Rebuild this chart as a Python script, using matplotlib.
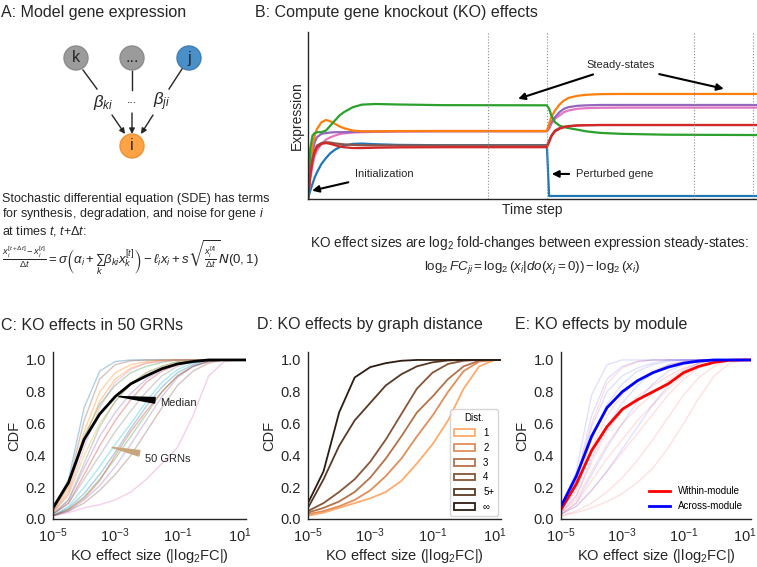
import numpy as np
import matplotlib
matplotlib.use("Agg")
import matplotlib.pyplot as plt
from matplotlib.patches import Circle, Rectangle
from matplotlib.lines import Line2D

plt.rcParams['font.family'] = ['Liberation Sans', 'DejaVu Sans']
plt.rcParams['mathtext.fontset'] = 'custom'
plt.rcParams['mathtext.rm'] = 'Liberation Sans'
plt.rcParams['mathtext.it'] = 'Liberation Sans:italic'
plt.rcParams['mathtext.bf'] = 'Liberation Sans:bold'
plt.rcParams['mathtext.cal'] = 'DejaVu Sans:italic'
plt.rcParams['mathtext.fallback'] = 'stixsans'

###################################################################################################
# DATA

# Panel B: expression time series (time step, expression) for 7 genes
T_STEP = [0, 0.5, 1, 1.5, 2, 3, 4, 5, 6, 7, 8, 10, 12, 15, 20, 30, 53.2, 53.7, 54.2, 55, 56, 57, 58, 60, 62, 65, 70, 80, 100]
EXPR_GREEN = [0, 0.30, 0.38, 0.395, 0.40, 0.40, 0.41, 0.44, 0.47, 0.50, 0.52, 0.55, 0.565, 0.569, 0.566, 0.562, 0.561, 0.54, 0.50, 0.46, 0.44, 0.43, 0.425, 0.415, 0.405, 0.396, 0.39, 0.385, 0.383]
EXPR_ORANGE = [0, 0.20, 0.32, 0.38, 0.42, 0.46, 0.473, 0.465, 0.45, 0.435, 0.424, 0.41, 0.405, 0.405, 0.407, 0.407, 0.407, 0.45, 0.49, 0.53, 0.565, 0.59, 0.605, 0.618, 0.624, 0.628, 0.629, 0.629, 0.629]
EXPR_PURPLE = [0, 0.18, 0.28, 0.34, 0.37, 0.39, 0.395, 0.398, 0.40, 0.40, 0.40, 0.402, 0.404, 0.405, 0.406, 0.407, 0.407, 0.43, 0.46, 0.49, 0.52, 0.54, 0.55, 0.558, 0.561, 0.563, 0.563, 0.563, 0.563]
EXPR_PINK = [0, 0.12, 0.20, 0.26, 0.29, 0.33, 0.355, 0.37, 0.38, 0.388, 0.393, 0.398, 0.40, 0.402, 0.404, 0.405, 0.405, 0.42, 0.45, 0.48, 0.50, 0.52, 0.53, 0.54, 0.544, 0.546, 0.547, 0.547, 0.547]
EXPR_BROWN = [0, 0.15, 0.24, 0.29, 0.32, 0.335, 0.34, 0.338, 0.333, 0.33, 0.327, 0.324, 0.322, 0.321, 0.32, 0.32, 0.32, 0.35, 0.38, 0.41, 0.425, 0.433, 0.437, 0.441, 0.442, 0.443, 0.443, 0.443, 0.443]
EXPR_RED = [0, 0.14, 0.23, 0.28, 0.31, 0.33, 0.335, 0.33, 0.322, 0.315, 0.31, 0.305, 0.305, 0.307, 0.309, 0.31, 0.31, 0.34, 0.375, 0.405, 0.42, 0.43, 0.435, 0.44, 0.442, 0.443, 0.443, 0.443, 0.443]
EXPR_BLUE = [0, 0.05, 0.09, 0.13, 0.16, 0.21, 0.245, 0.275, 0.295, 0.31, 0.32, 0.33, 0.332, 0.328, 0.324, 0.322, 0.322, 0.018, 0.018, 0.018, 0.018, 0.018, 0.018, 0.018, 0.018, 0.018, 0.018, 0.018, 0.018]
STEADY_WINDOWS = [40, 53.2, 86, 99]

# Panels C-E: CDFs evaluated at log10(|log2FC|)
LOG_FC = [-5, -4.5, -4, -3.5, -3, -2.5, -2, -1.5, -1, -0.5, 0, 0.5, 1, 1.2]

# C: individual GRNs and median
GRN_CDFS = [
    [0.06, 0.25, 0.70, 0.93, 0.99, 1.0, 1.0, 1.0, 1.0, 1.0, 1.0, 1.0, 1.0, 1.0],
    [0.05, 0.20, 0.55, 0.80, 0.92, 0.97, 0.99, 1.0, 1.0, 1.0, 1.0, 1.0, 1.0, 1.0],
    [0.06, 0.22, 0.52, 0.72, 0.84, 0.92, 0.96, 0.985, 1.0, 1.0, 1.0, 1.0, 1.0, 1.0],
    [0.03, 0.10, 0.28, 0.46, 0.62, 0.75, 0.86, 0.93, 0.97, 0.99, 1.0, 1.0, 1.0, 1.0],
    [0.03, 0.12, 0.32, 0.52, 0.67, 0.79, 0.88, 0.94, 0.98, 0.995, 1.0, 1.0, 1.0, 1.0],
    [0.05, 0.22, 0.62, 0.88, 0.97, 0.995, 1.0, 1.0, 1.0, 1.0, 1.0, 1.0, 1.0, 1.0],
    [0.02, 0.04, 0.07, 0.09, 0.12, 0.17, 0.25, 0.35, 0.45, 0.65, 0.90, 0.99, 1.0, 1.0],
    [0.03, 0.10, 0.25, 0.40, 0.55, 0.68, 0.80, 0.90, 0.96, 0.99, 1.0, 1.0, 1.0, 1.0],
    [0.04, 0.15, 0.40, 0.60, 0.74, 0.85, 0.92, 0.96, 0.99, 1.0, 1.0, 1.0, 1.0, 1.0],
    [0.02, 0.08, 0.20, 0.33, 0.47, 0.60, 0.74, 0.86, 0.94, 0.98, 1.0, 1.0, 1.0, 1.0],
    [0.02, 0.07, 0.16, 0.28, 0.42, 0.57, 0.71, 0.83, 0.92, 0.97, 0.995, 1.0, 1.0, 1.0],
    [0.04, 0.18, 0.50, 0.74, 0.88, 0.95, 0.98, 0.995, 1.0, 1.0, 1.0, 1.0, 1.0, 1.0],
    [0.02, 0.06, 0.14, 0.25, 0.38, 0.52, 0.66, 0.80, 0.90, 0.96, 0.99, 1.0, 1.0, 1.0],
    [0.02, 0.06, 0.13, 0.24, 0.40, 0.55, 0.68, 0.80, 0.90, 0.96, 0.99, 1.0, 1.0, 1.0],
    [0.02, 0.05, 0.12, 0.21, 0.33, 0.47, 0.62, 0.77, 0.89, 0.96, 0.99, 1.0, 1.0, 1.0],
    [0.02, 0.05, 0.10, 0.18, 0.28, 0.40, 0.55, 0.70, 0.84, 0.93, 0.98, 1.0, 1.0, 1.0],
    [0.04, 0.16, 0.45, 0.70, 0.86, 0.94, 0.98, 0.99, 1.0, 1.0, 1.0, 1.0, 1.0, 1.0],
    [0.03, 0.12, 0.35, 0.58, 0.74, 0.85, 0.92, 0.96, 0.99, 1.0, 1.0, 1.0, 1.0, 1.0],
]
MEDIAN_CDF = [0.07, 0.23, 0.50, 0.66, 0.77, 0.85, 0.90, 0.945, 0.975, 0.99, 1.0, 1.0, 1.0, 1.0]

# D: by graph distance
DIST_LABELS = ['1', '2', '3', '4', '5+', '\u221e']
DIST_CDFS = [
    [0.02, 0.04, 0.07, 0.10, 0.13, 0.17, 0.24, 0.35, 0.47, 0.62, 0.82, 0.96, 1.0, 1.0],
    [0.03, 0.05, 0.08, 0.12, 0.18, 0.27, 0.38, 0.52, 0.65, 0.80, 0.93, 0.99, 1.0, 1.0],
    [0.04, 0.07, 0.11, 0.17, 0.26, 0.38, 0.52, 0.67, 0.77, 0.88, 0.96, 0.995, 1.0, 1.0],
    [0.05, 0.10, 0.17, 0.25, 0.36, 0.50, 0.66, 0.82, 0.92, 0.975, 0.995, 1.0, 1.0, 1.0],
    [0.07, 0.25, 0.46, 0.62, 0.73, 0.84, 0.91, 0.96, 0.985, 0.997, 1.0, 1.0, 1.0, 1.0],
    [0.10, 0.30, 0.67, 0.89, 0.955, 0.98, 0.995, 1.0, 1.0, 1.0, 1.0, 1.0, 1.0, 1.0],
]

# E: by module
WITHIN_CDF = [0.06, 0.22, 0.43, 0.58, 0.69, 0.75, 0.80, 0.85, 0.92, 0.96, 0.985, 0.998, 1.0, 1.0]
ACROSS_CDF = [0.08, 0.27, 0.52, 0.70, 0.80, 0.87, 0.92, 0.955, 0.98, 0.993, 1.0, 1.0, 1.0, 1.0]
WITHIN_GRN_CDFS = [
    [0.06, 0.24, 0.60, 0.85, 0.95, 0.99, 1.0, 1.0, 1.0, 1.0, 1.0, 1.0, 1.0, 1.0],
    [0.05, 0.18, 0.45, 0.65, 0.78, 0.87, 0.93, 0.97, 0.99, 1.0, 1.0, 1.0, 1.0, 1.0],
    [0.04, 0.12, 0.30, 0.47, 0.60, 0.70, 0.79, 0.87, 0.94, 0.98, 1.0, 1.0, 1.0, 1.0],
    [0.03, 0.08, 0.18, 0.30, 0.42, 0.54, 0.66, 0.78, 0.88, 0.95, 0.99, 1.0, 1.0, 1.0],
    [0.02, 0.05, 0.10, 0.17, 0.26, 0.37, 0.50, 0.64, 0.78, 0.89, 0.96, 1.0, 1.0, 1.0],
    [0.02, 0.04, 0.07, 0.11, 0.16, 0.23, 0.32, 0.45, 0.60, 0.76, 0.90, 0.98, 1.0, 1.0],
    [0.04, 0.14, 0.36, 0.55, 0.68, 0.77, 0.84, 0.90, 0.95, 0.98, 1.0, 1.0, 1.0, 1.0],
    [0.03, 0.10, 0.24, 0.38, 0.50, 0.62, 0.72, 0.82, 0.90, 0.96, 0.99, 1.0, 1.0, 1.0],
]
ACROSS_GRN_CDFS = [
    [0.07, 0.30, 0.78, 0.97, 1.0, 1.0, 1.0, 1.0, 1.0, 1.0, 1.0, 1.0, 1.0, 1.0],
    [0.06, 0.25, 0.65, 0.88, 0.96, 0.99, 1.0, 1.0, 1.0, 1.0, 1.0, 1.0, 1.0, 1.0],
    [0.05, 0.20, 0.50, 0.72, 0.85, 0.93, 0.97, 0.99, 1.0, 1.0, 1.0, 1.0, 1.0, 1.0],
    [0.04, 0.15, 0.38, 0.58, 0.73, 0.84, 0.92, 0.97, 0.99, 1.0, 1.0, 1.0, 1.0, 1.0],
    [0.03, 0.10, 0.28, 0.45, 0.60, 0.74, 0.85, 0.93, 0.97, 0.99, 1.0, 1.0, 1.0, 1.0],
    [0.03, 0.08, 0.18, 0.30, 0.44, 0.58, 0.72, 0.84, 0.93, 0.98, 1.0, 1.0, 1.0, 1.0],
    [0.05, 0.22, 0.58, 0.80, 0.90, 0.95, 0.98, 1.0, 1.0, 1.0, 1.0, 1.0, 1.0, 1.0],
]
###################################################################################################

W, H = 757, 567
DARK = '#262626'
TAB10 = plt.get_cmap('tab10').colors


def rect(l, t, r, b):
    # pixel box (left, top, right, bottom) -> figure fraction
    return [l / W, 1 - b / H, (r - l) / W, (b - t) / H]


def fxy(x, y):
    return x / W, 1 - y / H


def style_axes(ax, size=10.5):
    for s in ['top', 'right']:
        ax.spines[s].set_visible(False)
    for s in ['left', 'bottom']:
        ax.spines[s].set_color(DARK)
        ax.spines[s].set_linewidth(1.0)
    ax.tick_params(length=0, pad=5, labelsize=size, colors=DARK)


def style_cdf(ax):
    style_axes(ax)
    ax.set_xscale('log')
    ax.set_xlim(1e-5, 10 ** 1.2)
    ax.set_ylim(0, 1.05)
    ax.set_xticks([1e-5, 1e-3, 1e-1, 1e1])
    ax.minorticks_off()
    ax.set_yticks([0, 0.2, 0.4, 0.6, 0.8, 1.0])
    ax.set_xlabel('KO effect size (|log$_2$FC|)', fontsize=10.5, color=DARK, labelpad=2)
    ax.set_ylabel('CDF', fontsize=10.5, color=DARK, labelpad=3)


fig = plt.figure(figsize=(W / 100, H / 100), dpi=100)
x_fc = np.power(10.0, LOG_FC)

# ---- Panel A: schematic drawn in pixel coordinates
ov = fig.add_axes([0, 0, 1, 1])
ov.set_xlim(0, W)
ov.set_ylim(H, 0)
ov.axis('off')

nodes = {'k': ((76, 58), '#9b9b9b', '#8c8c8c'),
         '...': ((132, 58), '#9b9b9b', '#8c8c8c'),
         'j': ((189, 58), '#4b8fc8', '#3f7fb5'),
         'i': ((132, 146), '#ffa345', '#f0923a')}
for name, (pos, fc, ec) in nodes.items():
    ov.add_patch(Circle(pos, 12, facecolor=fc, edgecolor=ec, lw=1))
    ov.text(pos[0], pos[1], name, ha='center', va='center', fontsize=11.5, color=DARK)

for seg in [((83, 70), (97, 89)), ((132, 71), (132, 90)), ((182, 69), (169, 89))]:
    ov.plot([seg[0][0], seg[1][0]], [seg[0][1], seg[1][1]], color=DARK, lw=1)
for tail, head in [((112, 115), (125, 134)), ((132, 113), (132, 134)), ((153, 115), (141, 134))]:
    ov.annotate('', xy=head, xytext=tail,
                arrowprops=dict(arrowstyle='-|>', color=DARK, lw=1, mutation_scale=8, shrinkA=0, shrinkB=0))
ov.text(103, 102, r'$\beta_{ki}$', ha='center', va='center', fontsize=12, color=DARK)
ov.text(132, 100, '...', ha='center', va='center', fontsize=9, color=DARK)
ov.text(162, 102, r'$\beta_{ji}$', ha='center', va='center', fontsize=12, color=DARK)

# ---- Titles and text
fig.text(*fxy(1, 12), 'A: Model gene expression', fontsize=11.5, va='center', color=DARK)
fig.text(*fxy(255, 12), 'B: Compute gene knockout (KO) effects', fontsize=11.5, va='center', color=DARK)
fig.text(*fxy(1, 325), 'C: KO effects in 50 GRNs', fontsize=11.5, va='center', color=DARK)
fig.text(*fxy(257, 325), 'D: KO effects by graph distance', fontsize=11.5, va='center', color=DARK)
fig.text(*fxy(515, 325), 'E: KO effects by module', fontsize=11.5, va='center', color=DARK)

fig.text(*fxy(2, 193), 'Stochastic differential equation (SDE) has terms\n'
         'for synthesis, degradation, and noise for gene $i$\n'
         'at times $t$, $t$+$\\Delta t$:', fontsize=9, va='top', linespacing=1.12, color=DARK)
fig.text(*fxy(2, 258),
         r'$\frac{x_i^{[t+\Delta t]}-x_i^{[t]}}{\Delta t} = \sigma\left(\alpha_i + \sum_k \beta_{ki} x_k^{[t]}\right)'
         r' - \ell_i x_i + s\sqrt{\frac{x_i^{[t]}}{\Delta t}}\mathcal{N}(0,1)$',
         fontsize=9.5, va='center', color=DARK)
fig.text(*fxy(530, 243), 'KO effect sizes are log$_2$ fold-changes between expression steady-states:',
         fontsize=9.8, ha='center', va='center', color=DARK)
fig.text(*fxy(532, 268), r'$\log_2 FC_{ji} = \log_2(x_i|do(x_j=0)) - \log_2(x_i)$',
         fontsize=9.6, ha='center', va='center', color=DARK)

# ---- Panel B
axB = fig.add_axes(rect(308, 32, 757, 199))
style_axes(axB)
for vals, col in [(EXPR_BLUE, TAB10[0]), (EXPR_PINK, TAB10[6]), (EXPR_PURPLE, TAB10[4]),
                  (EXPR_ORANGE, TAB10[1]), (EXPR_GREEN, TAB10[2]), (EXPR_BROWN, TAB10[5]),
                  (EXPR_RED, TAB10[3])]:
    axB.plot(T_STEP, vals, color=col, lw=1.6)
for t in STEADY_WINDOWS:
    axB.axvline(t, color='0.55', ls=':', lw=0.8)
axB.set_xlim(0, 100)
axB.set_ylim(0, 1)
axB.set_xticks([])
axB.set_yticks([])
axB.set_xlabel('Time step', fontsize=10, color=DARK, labelpad=3)
axB.set_ylabel('Expression', fontsize=10, color=DARK, labelpad=3)
arw = dict(arrowstyle='-|>', color='k', lw=1.5, mutation_scale=10, shrinkA=3, shrinkB=0)
axB.annotate('Steady-states', xy=(46.8, 0.60), xytext=(69.7, 0.80), ha='center', va='center',
             fontsize=8, color=DARK, arrowprops=arw)
axB.annotate('Steady-states', xy=(92.6, 0.66), xytext=(69.7, 0.80), ha='center', va='center',
             fontsize=8, color='none', arrowprops=arw)
axB.annotate('Initialization', xy=(0.9, 0.05), xytext=(10.5, 0.15), ha='left', va='center',
             fontsize=8, color=DARK, arrowprops=arw)
axB.annotate('Perturbed gene', xy=(54.3, 0.15), xytext=(59.7, 0.15), ha='left', va='center',
             fontsize=8, color=DARK, arrowprops=arw)

# ---- Panel C
axC = fig.add_axes(rect(53, 352, 246, 519))
for i, cdf in enumerate(GRN_CDFS):
    axC.plot(x_fc, cdf, color=TAB10[i % 10], alpha=0.35, lw=1)
axC.plot(x_fc, MEDIAN_CDF, color='k', lw=2)
style_cdf(axC)
axC.annotate('Median', xy=(10 ** -2.88, 0.77), xytext=(10 ** -1.55, 0.73), ha='left', va='center',
             fontsize=8, color=DARK,
             arrowprops=dict(arrowstyle='wedge,tail_width=0.5', color='k', shrinkA=2, shrinkB=0))
axC.annotate('50 GRNs', xy=(10 ** -3.1, 0.45), xytext=(10 ** -2.05, 0.375), ha='left', va='center',
             fontsize=8, color=DARK,
             arrowprops=dict(arrowstyle='wedge,tail_width=0.5', color='#c8a67c', shrinkA=2, shrinkB=0))

# ---- Panel D
axD = fig.add_axes(rect(308, 352, 501, 519))
cmap = plt.get_cmap('copper_r')
dist_colors = [cmap(v) for v in np.linspace(0, 1, len(DIST_LABELS) + 2)[1:-1]]
for cdf, col in zip(DIST_CDFS, dist_colors):
    axD.plot(x_fc, cdf, color=col, lw=1.3)
style_cdf(axD)
handles = [Rectangle((0, 0), 1, 1, facecolor='none', edgecolor=c, lw=1.3) for c in dist_colors]
leg = axD.legend(handles, DIST_LABELS, title='Dist.', loc='lower right', fontsize=7, title_fontsize=7,
                 frameon=True, borderaxespad=0.3, handlelength=2.2, labelspacing=0.5)
leg.get_frame().set_edgecolor('0.8')

# ---- Panel E
axE = fig.add_axes(rect(561, 352, 751, 519))
for cdf in WITHIN_GRN_CDFS:
    axE.plot(x_fc, cdf, color='red', alpha=0.12, lw=1)
for cdf in ACROSS_GRN_CDFS:
    axE.plot(x_fc, cdf, color='blue', alpha=0.12, lw=1)
axE.plot(x_fc, WITHIN_CDF, color='red', lw=2)
axE.plot(x_fc, ACROSS_CDF, color='blue', lw=2)
style_cdf(axE)
axE.legend([Line2D([], [], color='red', lw=2), Line2D([], [], color='blue', lw=2)],
           ['Within-module', 'Across-module'], loc='lower right', fontsize=7, frameon=False,
           borderaxespad=0.4, handlelength=2.2)

fig.savefig('out.png', dpi=100)
